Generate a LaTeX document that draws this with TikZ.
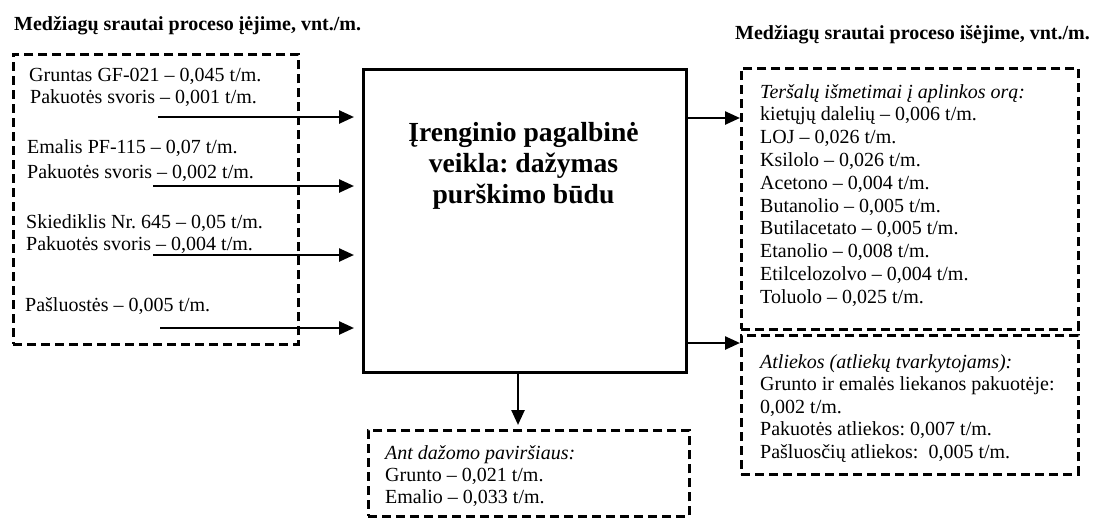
\documentclass[tikz,border=0pt]{standalone}
\usepackage{fontspec}
\setmainfont{Liberation Serif}
\usetikzlibrary{arrows.meta}
\frenchspacing
\begin{document}
\begin{tikzpicture}[x=1pt,y=-1pt,
  txt/.style={anchor=base west, inner sep=0pt, font=\fontsize{20}{22}\selectfont\frenchspacing},
  hdr/.style={anchor=base west, inner sep=0pt, font=\fontsize{20}{22}\selectfont\bfseries\frenchspacing},
  ttl/.style={anchor=base, inner sep=0pt, font=\fontsize{27.6}{31}\selectfont\bfseries\frenchspacing},
  dbox/.style={draw, line width=2.5pt, dash pattern=on 9pt off 5pt, anchor=north west, inner sep=0pt},
  pbox/.style={draw, line width=2.5pt, anchor=north west, inner sep=0pt},
  flow/.style={line width=2.5pt, -{Triangle[length=15pt,width=13pt]}}]
\useasboundingbox (0,0) rectangle (1097,517);

% headers
\node[hdr] (hin) at (14,30) {Medžiagų srautai proceso įėjime, vnt./m.};
\node[hdr] (hout) at (735,39) {Medžiagų srautai proceso išėjime, vnt./m.};

% boxes
\node[dbox, minimum width=285pt, minimum height=290pt] (inbox) at (12,53) {};
\node[pbox, minimum width=323pt, minimum height=303pt] (proc) at (362,68) {};
\node[dbox, minimum width=337pt, minimum height=261pt] (emis) at (740,67) {};
\node[dbox, minimum width=337pt, minimum height=139pt] (waste) at (740,334) {};
\node[dbox, minimum width=321pt, minimum height=86pt] (surf) at (367,429) {};

% title
\node[ttl] (t1) at (523.5,141) {Įrenginio pagalbinė};
\node[ttl] (t2) at (523.5,172) {veikla: dažymas};
\node[ttl] (t3) at (523.5,203) {purškimo būdu};

% input texts
\node[txt] (i1) at (29,81.5) {Gruntas GF-021 – 0,045 t/m.};
\node[txt] (i2) at (30,103) {Pakuotės svoris – 0,001 t/m.};
\node[txt] (i3) at (27,153) {Emalis PF-115 – 0,07 t/m.};
\node[txt] (i4) at (27,178) {Pakuotės svoris – 0,002 t/m.};
\node[txt] (i5) at (26,228) {Skiediklis Nr. 645 – 0,05 t/m.};
\node[txt] (i6) at (26,250) {Pakuotės svoris – 0,004 t/m.};
\node[txt] (i7) at (25,311) {Pašluostės – 0,005 t/m.};

% emissions
\foreach \t [count=\i] in {{\textit{Teršalų išmetimai į aplinkos orą:}},
  {kietųjų dalelių – 0,006 t/m.}, {LOJ – 0,026 t/m.}, {Ksilolo – 0,026 t/m.},
  {Acetono – 0,004 t/m.}, {Butanolio – 0,005 t/m.}, {Butilacetato – 0,005 t/m.},
  {Etanolio – 0,008 t/m.}, {Etilcelozolvo – 0,004 t/m.}, {Toluolo – 0,025 t/m.}}
  \node[txt] (e\i) at (760,{98+22.8*(\i-1)}) {\t};

% waste
\foreach \t [count=\i] in {{\textit{Atliekos (atliekų tvarkytojams):}},
  {Grunto ir emalės liekanos pakuotėje:}, {0,002 t/m.},
  {Pakuotės atliekos: 0,007 t/m.}, {Pašluosčių atliekos:\ \ 0,005 t/m.}}
  \node[txt] (w\i) at (760,{368+22.5*(\i-1)}) {\t};

% surface
\foreach \t [count=\i] in {{\textit{Ant dažomo paviršiaus:}},
  {Grunto – 0,021 t/m.}, {Emalio – 0,033 t/m.}}
  \node[txt] (s\i) at (385,{459.5+21.8*(\i-1)}) {\t};

% input arrows
\coordinate (a1) at (158,117);
\coordinate (a2) at (153,186);
\coordinate (a3) at (153,255);
\coordinate (a4) at (160,328);
\foreach \k in {1,2,3,4}
  \draw[flow, shorten >=8pt] (a\k) -- (a\k -| proc.west);

% output arrows
\coordinate (o1) at (685,118);
\coordinate (o2) at (685,343);
\draw[flow] (proc.east |- o1) -- (o1 -| emis.west);
\draw[flow] (proc.east |- o2) -- (o2 -| waste.west);
\coordinate (d1) at (518,371);
\draw[flow, shorten >=4pt] (proc.south -| d1) -- (surf.north -| d1);
\end{tikzpicture}
\end{document}
